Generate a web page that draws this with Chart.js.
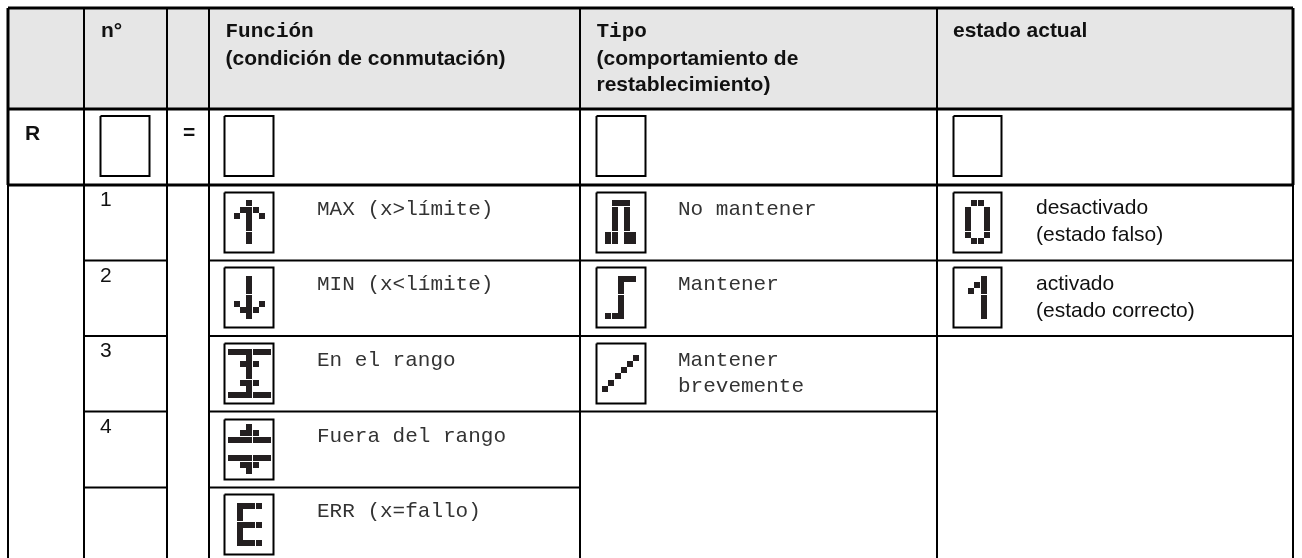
<!DOCTYPE html>
<html>
<head>
<meta charset="utf-8">
<style>
  html, body { margin: 0; padding: 0; background: #fff; }
  #wrap { position: relative; width: 1302px; height: 558px; }
</style>
<script src="https://cdn.jsdelivr.net/npm/chart.js@4/dist/chart.umd.min.js"></script>
</head>
<body>
<div id="wrap"><canvas id="tabla"></canvas></div>
<script>
// table grid, in picture units
const colLines = [8, 84, 167, 209, 580, 937, 1293];
const rowLines = [8, 109, 185, 260.5, 336, 411.5, 487.5, 558];

// header and row texts
const helv = "Liberation Sans";
const mono = "Liberation Mono";
const textos = [
  ["n°", 101, 37, "bold 21px " + helv],
  ["Función", 225.5, 37, "bold 21px " + mono],
  ["(condición de conmutación)", 225.5, 65, "bold 21px " + helv],
  ["Tipo", 596.5, 37, "bold 21px " + mono],
  ["(comportamiento de", 596.5, 65, "bold 21px " + helv],
  ["restablecimiento)", 596.5, 91, "bold 21px " + helv],
  ["estado actual", 953, 37, "bold 21px " + helv],
  ["R", 25, 140, "bold 21px " + helv],
  ["=", 183, 139, "bold 21px " + helv],
  ["1", 100, 206, "21px " + helv],
  ["2", 100, 281.5, "21px " + helv],
  ["3", 100, 357, "21px " + helv],
  ["4", 100, 432.5, "21px " + helv],
  ["MAX (x>límite)", 317, 215, "21px " + mono],
  ["MIN (x<límite)", 317, 290, "21px " + mono],
  ["En el rango", 317, 366, "21px " + mono],
  ["Fuera del rango", 317, 442, "21px " + mono],
  ["ERR (x=fallo)", 317, 517, "21px " + mono],
  ["No mantener", 678, 215, "21px " + mono],
  ["Mantener", 678, 290, "21px " + mono],
  ["Mantener", 678, 366, "21px " + mono],
  ["brevemente", 678, 392, "21px " + mono],
  ["desactivado", 1036, 214, "21px " + helv],
  ["(estado falso)", 1036, 241, "21px " + helv],
  ["activado", 1036, 290, "21px " + helv],
  ["(estado correcto)", 1036, 316.5, "21px " + helv]
];

// empty and filled display boxes: left edge, top edge
const cajasFuncion = [[224.5, 116], [224.5, 192.5], [224.5, 267.5], [224.5, 343.5], [224.5, 419.5], [224.5, 494.5]];
const cajasTipo = [[596.5, 116], [596.5, 192.5], [596.5, 267.5], [596.5, 343.5]];
const cajasEstado = [[953.5, 116], [953.5, 192.5], [953.5, 267.5]];
const cajaN = [[100.5, 116]];

// dot matrix glyphs
const flechaArriba = ["...#...", "..###..", ".#.#.#.", "...#...", "...#...", "...#...", "...#..."];
const flechaAbajo = ["...#...", "...#...", "...#...", "...#...", ".#.#.#.", "..###..", "...#..."];
const enRango = ["#######", "...#...", "..###..", "...#...", "...#...", "..###..", "...#...", "#######"];
const fueraRango = ["...#...", "..###..", "#######", ".......", ".......", "#######", "..###..", "...#..."];
const letraE = ["####", "#...", "#...", "####", "#...", "#...", "####"];
const noMantener = [".###.", ".#.#.", ".#.#.", ".#.#.", ".#.#.", "##.##", "##.##"];
const mantener = ["..###", "..#..", "..#..", "..#..", "..#..", "..#..", "###.."];
const breve = [".....#", "....#.", "...#..", "..#...", ".#....", "#....."];
const cero = [".##.", "#..#", "#..#", "#..#", "#..#", "#..#", ".##."];
const uno = ["..#", ".##", "#.#", "..#", "..#", "..#", "..#"];

// glyph, box, offset inside box, column after which the seam is, rows after which a seam is
const iconos = [
  [flechaArriba, [224.5, 192.5], 3.5, 7.5, 3, [0, 4]],
  [flechaAbajo, [224.5, 267.5], 3.5, 8.5, 3, [2]],
  [enRango, [224.5, 343.5], 3.5, 5.5, 3, [4]],
  [fueraRango, [224.5, 419.5], 3.5, 4.5, 3, [1, 5]],
  [letraE, [224.5, 494.5], 12.5, 8.5, 2, [2]],
  [noMantener, [596.5, 192.5], 8.5, 7.5, 0, [0, 4]],
  [mantener, [596.5, 267.5], 8.5, 8.5, 0, [2]],
  [breve, [596.5, 343.5], 5.5, 11.5, 1, [3]],
  [cero, [953.5, 192.5], 11.5, 7.5, 1, [0, 4]],
  [uno, [953.5, 267.5], 14.5, 8.5, 1, [2]]
];

const celda = 6;

function tramo(x1, y1, x2, y2) {
  return [{ x: x1, y: y1 }, { x: x2, y: y2 }, { x: null, y: null }];
}

function caja(x, y, w, h) {
  return [{ x: x, y: y }, { x: x + w, y: y }, { x: x + w, y: y + h }, { x: x, y: y + h }, { x: x, y: y }, { x: null, y: null }];
}

// one short line segment per lit dot of the glyphs
function puntosIcono() {
  const out = [];
  iconos.forEach(([filas, box, dx, dy, gapCol, gapFilas]) => {
    filas.forEach((fila, r) => {
      const extra = gapFilas.filter((g) => r > g).length;
      const y = box[1] + dy + r * celda + extra + celda / 2;
      [...fila].forEach((c, i) => {
        if (c !== "#") return;
        const x = box[0] + dx + i * celda + (i > gapCol ? 1 : 0);
        out.push(...tramo(x, y, x + celda, y));
      });
    });
  });
  return out;
}

const [c0, c1, c2, c3, c4, c5, c6] = colLines;
const [f0, f1, f2, f3, f4, f5, f6, f7] = rowLines;

const lineasFinas = [
  ...tramo(c1, f0, c1, f7), ...tramo(c2, f0, c2, f7), ...tramo(c3, f0, c3, f7),
  ...tramo(c4, f0, c4, f7), ...tramo(c5, f0, c5, f7),
  ...tramo(c0, f2, c0, f7), ...tramo(c6, f2, c6, f7),
  ...tramo(c1, f3, c2, f3), ...tramo(c1, f4, c2, f4), ...tramo(c1, f5, c2, f5), ...tramo(c1, f6, c2, f6),
  ...tramo(c3, f3, c6, f3), ...tramo(c3, f4, c6, f4), ...tramo(c3, f5, c5, f5), ...tramo(c3, f6, c4, f6)
];

const lineasGruesas = [
  ...tramo(c0, f1, c6, f1), ...tramo(c0, f2, c6, f2),
  ...tramo(c0, f1, c0, f2), ...tramo(c6, f1, c6, f2),
  ...tramo(c0, f0, c6, f0), ...tramo(c0, f0, c0, f1), ...tramo(c6, f0, c6, f1)
];

const cajas = [];
cajaN.concat(cajasFuncion, cajasTipo, cajasEstado).forEach(([x, y]) => {
  cajas.push(...caja(x, y, x < 900 ? 49 : 48, 60));
});

// the grey header band is one wide stroke
const fondoCabecera = tramo(c0, (f0 + f1) / 2, c6, (f0 + f1) / 2);

const linea = (data, ancho, color) => ({
  type: "line",
  data: data,
  borderColor: color,
  borderWidth: ancho,
  pointRadius: 0,
  spanGaps: false,
  tension: 0,
  borderCapStyle: "butt",
  borderJoinStyle: "miter",
  clip: false
});

const textosPlugin = {
  id: "textos",
  afterDatasetsDraw(chart) {
    const { ctx, scales } = chart;
    ctx.save();
    ctx.textBaseline = "alphabetic";
    textos.forEach(([t, x, y, font]) => {
      ctx.font = font;
      ctx.fillStyle = font === "21px " + mono ? "#333" : "#111";
      ctx.fillText(t, scales.x.getPixelForValue(x), scales.y.getPixelForValue(y));
    });
    ctx.restore();
  }
};

new Chart(document.getElementById("tabla"), {
  type: "scatter",
  data: {
    datasets: [
      linea(lineasFinas, 2, "#000"),
      linea(lineasGruesas, 3, "#000"),
      linea(cajas, 2, "#000"),
      linea(puntosIcono(), celda, "#231f20"),
      linea(fondoCabecera, f1 - f0, "#e6e6e6")
    ].map((d, i) => ({ ...d, order: i === 4 ? 5 : 4 - i }))
  },
  options: {
    responsive: true,
    maintainAspectRatio: false,
    animation: false,
    layout: { padding: 0 },
    plugins: { legend: { display: false }, tooltip: { enabled: false } },
    scales: {
      x: { type: "linear", min: 0, max: 1302, display: false },
      y: { type: "linear", min: 0, max: 558, reverse: true, display: false }
    }
  },
  plugins: [textosPlugin]
});
</script>
</body>
</html>
